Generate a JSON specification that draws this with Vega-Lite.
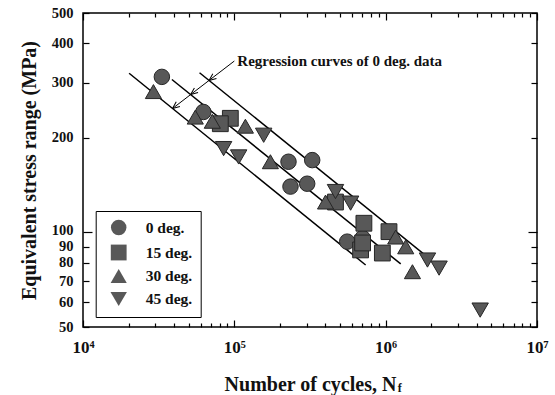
{
  "$schema": "https://vega.github.io/schema/vega-lite/v6.json",
  "width": 454,
  "height": 314,
  "autosize": {"type": "none"},
  "padding": {"left": 83, "top": 13, "right": 18, "bottom": 68},
  "background": "white",
  "config": {
    "view": {"stroke": "black", "strokeWidth": 1.5},
    "font": "Liberation Serif",
    "axis": {
      "domain": false,
      "grid": false,
      "tickColor": "black",
      "tickWidth": 1.2,
      "labelFont": "Liberation Serif",
      "labelFontWeight": "bold",
      "labelColor": "#111",
      "titleFont": "Liberation Serif",
      "titleFontWeight": "bold",
      "titleColor": "#111"
    }
  },
  "datasets": {
    "reg": [
      {"line": "A", "N": 20170, "S": 321.4},
      {"line": "A", "N": 737300, "S": 78.8},
      {"line": "B", "N": 38670, "S": 307},
      {"line": "B", "N": 1257000, "S": 79.4},
      {"line": "C", "N": 58900, "S": 322.7},
      {"line": "C", "N": 1927000, "S": 82.9}
    ],
    "leader": [
      {"N": 100000, "S": 351.6},
      {"N": 39030, "S": 248.2}
    ],
    "tips": [
      {"N": 68080, "S": 305},
      {"N": 51450, "S": 274.9},
      {"N": 39030, "S": 248.2}
    ],
    "points": [
      {"series": "0 deg.", "N": 33200, "S": 313},
      {"series": "0 deg.", "N": 62400, "S": 242},
      {"series": "0 deg.", "N": 228000, "S": 168},
      {"series": "0 deg.", "N": 327000, "S": 170},
      {"series": "0 deg.", "N": 235000, "S": 140},
      {"series": "0 deg.", "N": 303000, "S": 143},
      {"series": "0 deg.", "N": 557000, "S": 93.5},
      {"series": "0 deg.", "N": 704000, "S": 96},
      {"series": "15 deg.", "N": 94100, "S": 231},
      {"series": "15 deg.", "N": 80800, "S": 222},
      {"series": "15 deg.", "N": 466000, "S": 125},
      {"series": "15 deg.", "N": 718000, "S": 107},
      {"series": "15 deg.", "N": 683000, "S": 88},
      {"series": "15 deg.", "N": 951000, "S": 86},
      {"series": "15 deg.", "N": 1052000, "S": 100.6},
      {"series": "15 deg.", "N": 704000, "S": 92.6},
      {"series": "30 deg.", "N": 29200, "S": 281},
      {"series": "30 deg.", "N": 55200, "S": 233},
      {"series": "30 deg.", "N": 71500, "S": 226},
      {"series": "30 deg.", "N": 118300, "S": 218},
      {"series": "30 deg.", "N": 173100, "S": 168},
      {"series": "30 deg.", "N": 400600, "S": 125},
      {"series": "30 deg.", "N": 1165000, "S": 96.7},
      {"series": "30 deg.", "N": 1357000, "S": 90},
      {"series": "30 deg.", "N": 1503000, "S": 75},
      {"series": "45 deg.", "N": 156300, "S": 204},
      {"series": "45 deg.", "N": 84950, "S": 185},
      {"series": "45 deg.", "N": 106800, "S": 174},
      {"series": "45 deg.", "N": 466000, "S": 135},
      {"series": "45 deg.", "N": 586500, "S": 124},
      {"series": "45 deg.", "N": 1889000, "S": 81.7},
      {"series": "45 deg.", "N": 2254000, "S": 77},
      {"series": "45 deg.", "N": 4212000, "S": 56.6}
    ]
  },
  "resolve": {"axis": {"x": "independent", "y": "independent"}},
  "layer": [
    {
      "data": {"name": "reg"},
      "mark": {"type": "line", "stroke": "black", "strokeWidth": 1.5},
      "encoding": {
        "x": {
          "field": "N", "type": "quantitative",
          "scale": {"type": "log", "domain": [10000, 10000000], "nice": false},
          "axis": {
            "orient": "bottom",
            "values": [10000, 20000, 30000, 40000, 50000, 60000, 70000, 80000, 90000, 100000, 200000, 300000, 400000, 500000, 600000, 700000, 800000, 900000, 1000000, 2000000, 3000000, 4000000, 5000000, 6000000, 7000000, 8000000, 9000000, 10000000],
            "labelExpr": "datum.value == 10000 ? '10⁴' : datum.value == 100000 ? '10⁵' : datum.value == 1000000 ? '10⁶' : datum.value == 10000000 ? '10⁷' : ''",
            "tickSize": {"condition": {"test": "datum.value == 10000 || datum.value == 100000 || datum.value == 1000000 || datum.value == 10000000", "value": -7}, "value": -4},
            "labelPadding": 19,
            "labelFontSize": 17,
            "labelOverlap": false,
            "labelFlush": false,
            "title": "Number of cycles, N",
            "titleFontSize": 20,
            "titlePadding": 16
          }
        },
        "y": {
          "field": "S", "type": "quantitative",
          "scale": {"type": "log", "domain": [50, 500], "nice": false, "zero": false},
          "axis": {
            "orient": "left",
            "values": [50, 60, 70, 80, 90, 100, 200, 300, 400, 500],
            "tickSize": {"condition": {"test": "datum.value == 100", "value": -9}, "value": -6},
            "labelPadding": {"condition": {"test": "datum.value == 100", "value": 19}, "value": 16},
            "labelOffset": {"condition": {"test": "datum.value == 100", "value": -2}, "value": 0},
            "labelFontSize": 14.5,
            "labelOverlap": false,
            "labelFlush": false,
            "title": "Equivalent stress range (MPa)",
            "titleFontSize": 20,
            "titlePadding": 12
          }
        },
        "detail": {"field": "line", "type": "nominal"}
      }
    },
    {
      "data": {"name": "leader"},
      "mark": {"type": "line", "stroke": "black", "strokeWidth": 1},
      "encoding": {
        "x": {
          "field": "N", "type": "quantitative",
          "axis": {
            "orient": "top",
            "values": [10000, 20000, 30000, 40000, 50000, 60000, 70000, 80000, 90000, 100000, 200000, 300000, 400000, 500000, 600000, 700000, 800000, 900000, 1000000, 2000000, 3000000, 4000000, 5000000, 6000000, 7000000, 8000000, 9000000, 10000000],
            "labels": false,
            "tickSize": {"condition": {"test": "datum.value == 10000 || datum.value == 100000 || datum.value == 1000000 || datum.value == 10000000", "value": -7}, "value": -4},
            "title": null
          }
        },
        "y": {
          "field": "S", "type": "quantitative",
          "axis": {
            "orient": "right",
            "values": [50, 60, 70, 80, 90, 100, 200, 300, 400, 500],
            "labels": false,
            "tickSize": {"condition": {"test": "datum.value == 100", "value": -9}, "value": -6},
            "title": null
          }
        }
      }
    },
    {
      "data": {"name": "tips"},
      "mark": {"type": "point", "shape": "M0,0L-1,-0.42M0,0L-1,0.42", "filled": false, "stroke": "black", "strokeWidth": 1, "size": 200, "angle": 142, "opacity": 1},
      "encoding": {
        "x": {"field": "N", "type": "quantitative", "axis": null},
        "y": {"field": "S", "type": "quantitative", "axis": null}
      }
    },
    {
      "data": {"name": "points"},
      "mark": {"type": "point", "filled": true, "color": "#585858", "stroke": "#262626", "strokeWidth": 1, "opacity": 1},
      "encoding": {
        "x": {"field": "N", "type": "quantitative", "axis": null},
        "y": {"field": "S", "type": "quantitative", "axis": null},
        "shape": {
          "field": "series", "type": "nominal",
          "scale": {"domain": ["0 deg.", "15 deg.", "30 deg.", "45 deg."], "range": ["circle", "square", "triangle-up", "triangle-down"]},
          "legend": {
            "orient": "none", "legendX": 12.7, "legendY": 198, "title": null,
            "strokeColor": "black", "fillColor": "white", "padding": 8,
            "labelFont": "Liberation Serif", "labelFontWeight": "bold", "labelFontSize": 15.5, "labelColor": "#111",
            "labelOffset": 18, "rowPadding": 4, "symbolOffset": 6,
            "symbolFillColor": "#585858", "symbolStrokeColor": "#262626", "symbolStrokeWidth": 1
          }
        },
        "size": {
          "field": "series", "type": "nominal",
          "scale": {"domain": ["0 deg.", "15 deg.", "30 deg.", "45 deg."], "range": [240, 270, 390, 390]},
          "legend": {
            "orient": "none", "legendX": 12.7, "legendY": 198, "title": null,
            "strokeColor": "black", "fillColor": "white", "padding": 8,
            "labelFont": "Liberation Serif", "labelFontWeight": "bold", "labelFontSize": 15.5, "labelColor": "#111",
            "labelOffset": 18, "rowPadding": 4, "symbolOffset": 6,
            "symbolFillColor": "#585858", "symbolStrokeColor": "#262626", "symbolStrokeWidth": 1
          }
        }
      }
    },
    {
      "data": {"values": [{"label": "Regression curves of 0 deg. data"}]},
      "mark": {"type": "text", "align": "left", "baseline": "middle", "font": "Liberation Serif", "fontWeight": "bold", "fontSize": 15, "color": "#111"},
      "encoding": {
        "x": {"datum": 104700, "type": "quantitative", "axis": null},
        "y": {"datum": 351.6, "type": "quantitative", "axis": null},
        "text": {"field": "label"}
      }
    },
    {
      "data": {"values": [{"label": "f"}]},
      "mark": {"type": "text", "align": "center", "baseline": "alphabetic", "font": "Liberation Serif", "fontWeight": "bold", "fontSize": 12, "color": "#111"},
      "encoding": {
        "x": {"datum": 1238000, "type": "quantitative", "axis": null},
        "y": {"datum": 31.05, "type": "quantitative", "axis": null},
        "text": {"field": "label"}
      }
    }
  ]
}
